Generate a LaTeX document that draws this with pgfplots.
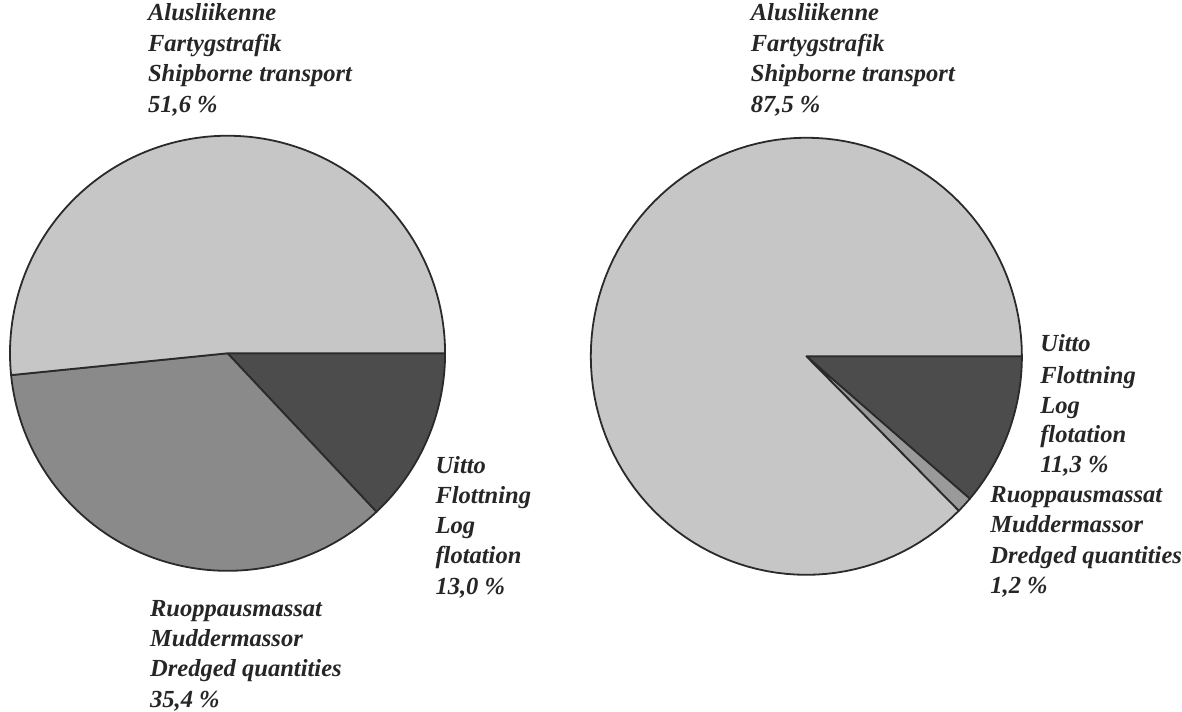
\documentclass[border=0pt]{standalone}
\usepackage{pgfplots}
\pgfplotsset{compat=1.18}
\usepackage{fontspec}
\setmainfont{Liberation Serif}
\definecolor{shipc}{HTML}{C6C6C6}
\definecolor{dredc}{HTML}{8A8A8A}
\definecolor{dredr}{HTML}{9A9A9A}
\definecolor{logc}{HTML}{4C4C4C}
\definecolor{edgec}{HTML}{2A2A2A}
\definecolor{txtc}{HTML}{262626}
% slice: cx cy rx ry startpercent endpercent colour
\newcommand{\slice}[7]{%
  \addplot[fill=#7, draw=edgec, line width=0.9pt, line join=round, domain={#5*3.6}:{#6*3.6}, samples=120]
    ({#1+#3*cos(x)},{#2+#4*sin(x)}) -- (axis cs:#1,#2) -- cycle;}
\newcommand{\lab}[3]{\node[anchor=base west, inner sep=0pt, text=txtc,
  font=\fontsize{12.3}{14}\selectfont\bfseries\itshape] at (axis cs:#1,#2) {#3};}
\begin{document}
\begin{tikzpicture}
\begin{axis}[
  scale only axis, width=591pt, height=356pt,
  xmin=0, xmax=1182, ymin=0, ymax=712, y dir=reverse,
  hide axis, clip=false]
\path (rel axis cs:0,0) rectangle (rel axis cs:1,1);
% Left pie: Log flotation 13.0, Dredged 35.4, Shipborne 51.6 (clockwise from 3 o'clock)
\slice{228}{354}{218}{218}{0}{13.0}{logc}
\slice{228}{354}{218}{218}{13.0}{48.4}{dredc}
\slice{228}{354}{218}{218}{48.4}{100}{shipc}
% Right pie: Log flotation 11.3, Dredged 1.2, Shipborne 87.5
\slice{808}{357}{216}{219}{0}{11.3}{logc}
\slice{808}{357}{216}{219}{11.3}{12.5}{dredr}
\slice{808}{357}{216}{219}{12.5}{100}{shipc}
% Left labels
\lab{148}{21}{Alusliikenne}
\lab{148}{52}{Fartygstrafik}
\lab{148}{82}{Shipborne transport}
\lab{148}{113}{51,6 \%}
\lab{436}{474}{Uitto}
\lab{436}{505}{Flottning}
\lab{436}{535}{Log}
\lab{436}{565}{flotation}
\lab{436}{596}{13,0 \%}
\lab{150}{618}{Ruoppausmassat}
\lab{150}{648}{Muddermassor}
\lab{150}{678}{Dredged quantities}
\lab{150}{709}{35,4 \%}
% Right labels
\lab{752}{21}{Alusliikenne}
\lab{752}{52}{Fartygstrafik}
\lab{752}{82}{Shipborne transport}
\lab{752}{113}{87,5 \%}
\lab{1042}{352}{Uitto}
\lab{1042}{384}{Flottning}
\lab{1042}{414}{Log}
\lab{1042}{443}{flotation}
\lab{1042}{473}{11,3 \%}
\lab{992}{504}{Ruoppausmassat}
\lab{992}{534}{Muddermassor}
\lab{992}{565}{Dredged quantities}
\lab{992}{595}{1,2 \%}
\end{axis}
\end{tikzpicture}
\end{document}
